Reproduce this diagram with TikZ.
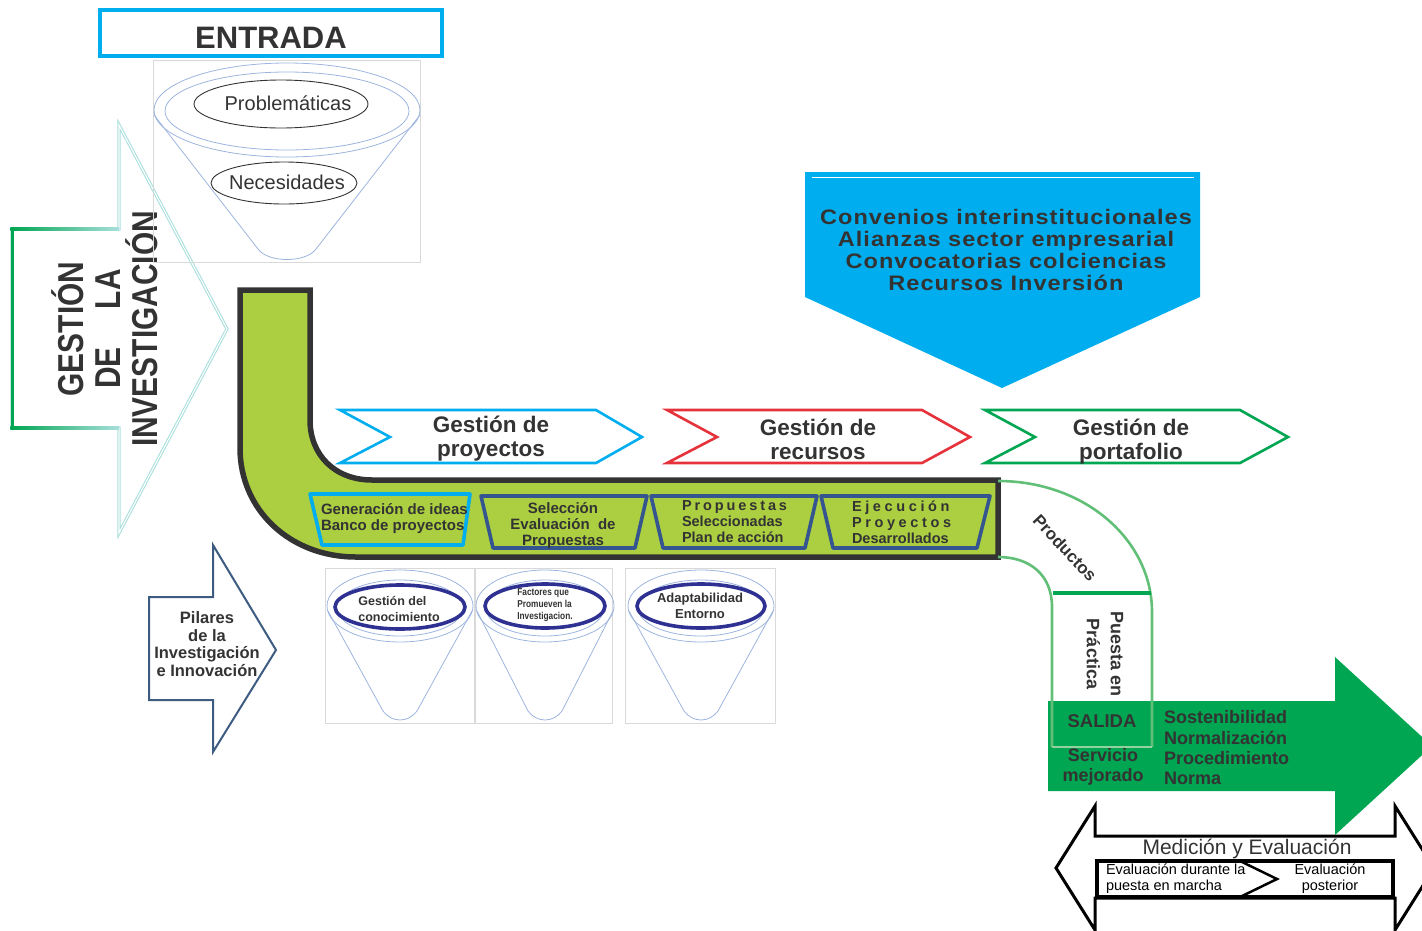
\documentclass[tikz,border=0pt]{standalone}
\usepackage{fontspec}
\setmainfont{Liberation Sans}
\newfontfamily\condsans[FakeStretch=0.83]{Liberation Sans}
\newfontfamily\widesans[FakeStretch=1.12, LetterSpace=5]{Liberation Sans}
\usetikzlibrary{calc}
\definecolor{ink}{HTML}{333333}
\definecolor{cyanb}{HTML}{00AEEF}
\definecolor{pipegreen}{HTML}{ABCF40}
\definecolor{pipeedge}{HTML}{333333}
\definecolor{arrowgreen}{HTML}{00A651}
\definecolor{lightgreen}{HTML}{62BF78}
\definecolor{redc}{HTML}{E5323B}
\definecolor{navy}{HTML}{2E3192}
\definecolor{trapblue}{HTML}{34558F}
\definecolor{slate}{HTML}{3E5C82}
\definecolor{funnelblue}{HTML}{9DB4DE}
\definecolor{framegray}{HTML}{D9D9D9}
\definecolor{aqua}{HTML}{A8DFDC}

% funnel: centre x, ellipse centre y, radius x, radius y, bottom y, bottom half width
\newcommand\drawfunnel[6]{%
  \draw[funnelline] (#1,#2) ellipse [x radius=#3, y radius=#4];
  \draw[funnelline] (#1,{#2+2}) ellipse [x radius={#3-10}, y radius={#4-8}];
  \draw[funnelline] ({#1-#3+1},{#2+5}) -- ({#1-#6},{#5-11})
     .. controls ({#1-#6+9},{#5+1}) and ({#1+#6-9},{#5+1}) .. ({#1+#6},{#5-11})
     -- ({#1+#3-1},{#2+5});
}

\begin{document}
\begin{tikzpicture}[x=1pt,y=-1pt,
  every node/.style={inner sep=0pt, outer sep=0pt, text=ink},
  funnelline/.style={draw=funnelblue, line width=0.8pt},
  frame/.style={draw=framegray, line width=0.7pt},
  chev/.style={line width=2.6pt, fill=white, line join=miter},
  trap/.style={line width=3.6pt, draw=trapblue, line join=round},
  oval/.style={draw=navy, line width=3.6pt, fill=white},
  thinoval/.style={draw=ink, line width=0.9pt},
]
\useasboundingbox (0,0) rectangle (1422,930);
\clip (0,0) rectangle (1422,930);

% ---- big entry arrow on the left
\draw[draw=aqua, line width=3.2pt, line join=miter] (12,229) -- (119,229) -- (119,125) -- (227,329) -- (119,533) -- (119,428) -- (12,428) -- cycle;
\draw[draw=white, line width=1.1pt, line join=miter] (12,229) -- (119,229) -- (119,125) -- (227,329) -- (119,533) -- (119,428) -- (12,428) -- cycle;
\shade[left color=arrowgreen, right color=aqua] (10.4,227.4) rectangle (119,230.6);
\shade[left color=arrowgreen, right color=aqua] (10.4,426.4) rectangle (119,429.6);
\draw[arrowgreen, line width=3pt] (12,227.4) -- (12,429.6);
\node[font=\condsans\bfseries\fontsize{36}{37}\selectfont, align=center, rotate=90] (gest) at (105,329)
  {GESTIÓN\\DE\hspace*{38pt}LA\\INVESTIGACIÓN};

% ---- entry funnel
\draw[frame] (153,60) rectangle (420,262);
\draw[funnelline] (287,110) ellipse [x radius=133, y radius=47];
\draw[funnelline] (287,111) ellipse [x radius=122, y radius=39];
\draw[funnelline] (154,115) -- (258,249) .. controls (268,263) and (306,263) .. (316,249) -- (420,115);
\draw[thinoval] (281,104) ellipse [x radius=87, y radius=24];
\draw[thinoval] (284,183) ellipse [x radius=73, y radius=21];
\node[font=\fontsize{20}{22}\selectfont] (prob) at (288,103) {Problemáticas};
\node[font=\fontsize{20}{22}\selectfont] (nec) at (287,182) {Necesidades};

\draw[line width=4pt, draw=cyanb, fill=white] (100,10) rectangle (442,56);
\node[font=\bfseries\fontsize{31}{33}\selectfont] (ent) at (271,38) {ENTRADA};

% ---- resources pentagon
\fill[cyanb] (805,172) -- (1200,172) -- (1200,297) -- (1002,388) -- (805,297) -- cycle;
\draw[white, line width=1pt] (812,177) -- (1194,177);
\node[font=\widesans\bfseries\fontsize{21}{22}\selectfont, align=center] (res) at (1006,250)
  {Convenios interinstitucionales\\Alianzas sector empresarial\\Convocatorias colciencias\\Recursos Inversión};

% ---- main pipe
\draw[line width=5.5pt, draw=pipeedge, fill=pipegreen, line join=miter]
  (240,290) -- (310,290) -- (310,420) .. controls (310,455) and (335,480) .. (372,480)
  -- (998,480) -- (998,557) -- (356,557) .. controls (290,557) and (240,510) .. (240,448) -- cycle;

% ---- stages inside the pipe
\draw[trap, draw=cyanb] (310,494) -- (470,494) -- (463,545) -- (322,545) -- cycle;
\draw[trap] (481,496) -- (647,496) -- (635,548) -- (493,548) -- cycle;
\draw[trap] (651,496) -- (817,496) -- (805,548) -- (663,548) -- cycle;
\draw[trap] (821,496) -- (990,496) -- (977,548) -- (833,548) -- cycle;
\node[font=\bfseries\fontsize{15}{16}\selectfont, align=left, anchor=west] (s1) at (321,519)
  {Generación de ideas\\Banco de proyectos};
\node[font=\bfseries\fontsize{15}{16}\selectfont, align=center] (s2) at (563,526)
  {Selección\\Evaluación\ \ de\\Propuestas};
\node[font=\bfseries\fontsize{14.5}{16}\selectfont, align=left, anchor=west] (s3) at (682,522)
  {{\addfontfeature{LetterSpace=20}Propuestas}\\Seleccionadas\\Plan de acción};
\node[font=\bfseries\fontsize{14.5}{16}\selectfont, align=left, anchor=west] (s4) at (852,522)
  {{\addfontfeature{LetterSpace=25}Ejecución}\\{\addfontfeature{LetterSpace=25}Proyectos}\\Desarrollados};

% ---- management chevrons
\draw[chev, draw=cyanb] (340,410) -- (596,410) -- (642,437) -- (596,463) -- (340,463) -- (390,437) -- cycle;
\draw[chev, draw=redc] (667,410) -- (922,410) -- (970,437) -- (922,463) -- (667,463) -- (717,437) -- cycle;
\draw[chev, draw=arrowgreen] (985,410) -- (1240,410) -- (1288,437) -- (1240,463) -- (985,463) -- (1035,437) -- cycle;
\node[font=\bfseries\fontsize{22.5}{24}\selectfont, align=center] (g1) at (491,439) {Gestión de\\proyectos};
\node[font=\bfseries\fontsize{22.5}{24}\selectfont, align=center] (g2) at (818,439) {Gestión de\\recursos};
\node[font=\bfseries\fontsize{22.5}{24}\selectfont, align=center] (g3) at (1131,442) {Gestión de\\portafolio};

% ---- pillars arrow and funnels
\draw[draw=slate, line width=2pt, fill=white, line join=miter]
  (149,597) -- (213,597) -- (213,545) -- (276,650) -- (213,752) -- (213,700) -- (149,700) -- cycle;
\node[font=\bfseries\fontsize{16.5}{17.7}\selectfont, align=center] (pil) at (207,644)
  {Pilares\\de la\\Investigación\\e Innovación};

\draw[frame] (325,568) rectangle (474,723);
\draw[frame] (475,568) rectangle (612,723);
\draw[frame] (625,568) rectangle (775,723);
\drawfunnel{400}{606}{73}{36}{722}{17}
\drawfunnel{545}{606}{69}{36}{722}{17}
\drawfunnel{701}{606}{73}{36}{722}{17}
\draw[oval] (400,607) ellipse [x radius=65, y radius=22];
\draw[oval] (545,606) ellipse [x radius=60, y radius=22];
\draw[oval] (701,606) ellipse [x radius=64, y radius=22];
\node[font=\bfseries\fontsize{12.5}{16}\selectfont, align=left] (p1) at (399,609) {Gestión del\\conocimiento};
\node[font=\condsans\bfseries\fontsize{10}{12}\selectfont, align=left] (p2) at (545,605) {Factores que\\Promueven la\\Investigacion.};
\node[font=\bfseries\fontsize{13}{16.5}\selectfont, align=center] (p3) at (700,606) {Adaptabilidad\\Entorno};

% ---- measuring double arrow
\draw[line width=3pt, fill=white, line join=miter]
  (1056,868) -- (1095,806) -- (1095,836) -- (1395,836) -- (1395,806) -- (1434,868)
  -- (1395,930) -- (1395,898) -- (1095,898) -- (1095,930) -- cycle;
\draw[line width=3.5pt] (1097,861) rectangle (1393,897);
\draw[line width=2.5pt, line join=miter] (1240,861) -- (1277,879) -- (1240,897);
\node[font=\fontsize{21}{23}\selectfont] (med) at (1247,849) {Medición y Evaluación};
\node[font=\fontsize{14.5}{16}\selectfont, align=left, anchor=west, text=black] (ev1) at (1106,879)
  {Evaluación durante la\\puesta en marcha};
\node[font=\fontsize{14.5}{16}\selectfont, align=center, text=black] (ev2) at (1330,879)
  {Evaluación\\posterior};

% ---- output arrow
\fill[arrowgreen] (1048,701) -- (1335,701) -- (1335,657) -- (1432,746) -- (1335,835) -- (1335,791) -- (1048,791) -- cycle;

% ---- products bend
\draw[draw=lightgreen, line width=2.6pt]
  (998,481) .. controls (1085,481) and (1152,540) .. (1152,612) -- (1152,747);
\draw[draw=lightgreen, line width=2.6pt]
  (998,557) .. controls (1030,557) and (1052,575) .. (1052,607) -- (1052,747);
\draw[draw=lightgreen!70!white, line width=1.5pt] (1052,747) -- (1152,747);
\draw[arrowgreen, line width=4pt] (1053,593) -- (1151,593);
\node[font=\bfseries\fontsize{17}{19}\selectfont, rotate=-47] (prod) at (1065,548) {Productos};
\node[font=\bfseries\fontsize{18}{24}\selectfont, align=center, rotate=-90] (pp) at (1105,654) {Puesta en\\Práctica};

\node[font=\bfseries\fontsize{18.5}{20}\selectfont] (sal) at (1102,721) {SALIDA};
\node[font=\bfseries\fontsize{18}{20}\selectfont, align=center] (serv) at (1103,767) {Servicio\\mejorado};
\node[font=\bfseries\fontsize{18}{20.3}\selectfont, align=left, anchor=west] (sost) at (1164,748)
  {Sostenibilidad\\Normalización\\Procedimiento\\Norma};

\end{tikzpicture}
\end{document}
